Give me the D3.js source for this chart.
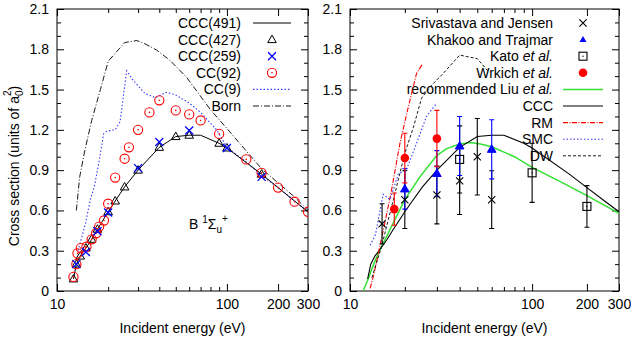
<!DOCTYPE html>
<html><head><meta charset="utf-8">
<script src="https://cdn.jsdelivr.net/npm/d3@7"></script>
<style>
body{margin:0;background:#fff}
svg{display:block;font-family:"Liberation Sans",Arial,Helvetica,sans-serif}
</style></head><body>
<svg id="c" width="634" height="341"></svg>
<script>
// ---------- data (left panel) ----------
const ccc491E = [12.5,13,13.7,14.8,16,17.3,20,22,25,30,40,50,60,70,90,100,160,200,250,300];
const ccc491V = [0.09,0.2,0.26,0.32,0.385,0.46,0.59,0.67,0.775,0.90,1.07,1.15,1.16,1.16,1.10,1.065,0.87,0.77,0.67,0.59];
const ccc427E = [12.5,13,13.7,14.8,16,17.3,20,22,25,30,40,50,60,90,100,160];
const ccc427V = [0.09,0.2,0.26,0.32,0.385,0.46,0.59,0.67,0.775,0.90,1.07,1.15,1.16,1.10,1.065,0.87];
const ccc259E = [13,14.8,17.3,20,30,40,60,100,160];
const ccc259V = [0.2,0.29,0.445,0.585,0.915,1.11,1.195,1.065,0.85];
const cc92E = [12.5,13,13.2,13.8,14.9,16,17,17.7,18.9,20,22,25,26.5,30,35,40,50,60,70,90,130,160,200,250,300];
const cc92V = [0.105,0.2,0.28,0.32,0.33,0.385,0.43,0.48,0.525,0.65,0.845,0.985,1.07,1.20,1.33,1.42,1.345,1.315,1.27,1.17,0.98,0.88,0.77,0.665,0.59];
const cc9E = [13.3,14.7,15.7,16.6,17.6,18.8,19.7,22,23.5,25.7,28,33,38,44,50,60,70,87,100,130,160,200,300];
const cc9V = [0.3,0.5,0.68,0.78,0.95,1.17,1.19,1.20,1.26,1.64,1.57,1.47,1.44,1.48,1.46,1.40,1.33,1.20,1.07,0.96,0.86,0.77,0.59];
const bornE = [13,13.6,14.6,16,18,20,22,25,29.5,33,38.5,46,58,80,100,160,250,300];
const bornV = [0.6,0.85,1.05,1.27,1.5,1.71,1.77,1.85,1.865,1.84,1.795,1.72,1.59,1.35,1.21,0.91,0.70,0.6];

// ---------- data (right panel) ----------
const sjE = [15,20,30,40,50,60];
const sjV = [0.5,0.68,0.715,0.82,1.0,0.68];
const sjErr = [0.15,0.215,0.215,0.25,0.285,0.215];
const ktE = [20,30,40,60];
const ktV = [0.76,0.875,1.08,1.055];
const ktErr = [0.15,0.17,0.22,0.22];
const katoE = [40,100,200];
const katoV = [0.98,0.88,0.63];
const katoErr = [0.25,0.22,0.155];
const wrE = [17.5,20,30];
const wrV = [0.61,0.99,1.135];
const wrErr = [0.12,0.185,0.21];
const liuE = [11.8,12.5,13.5,14.3,16.9,20,24.2,30,34,40,46,52,60,80,100,150,200,300];
const liuV = [0.0,0.08,0.2,0.28,0.48,0.68,0.85,1.01,1.06,1.095,1.105,1.095,1.074,1.0,0.92,0.80,0.71,0.578];
const rmE = [12.9,13.5,14.3,15.5,16.9,18.8,20.9,23.2,25];
const rmV = [0.02,0.12,0.28,0.5,0.75,1.1,1.37,1.62,1.69];
const smcE = [12.9,13.8,15.2,16.6,18.4,20.5,23.2,26.3,30];
const smcV = [0.34,0.42,0.72,0.68,0.87,0.91,1.1,1.30,1.40];
const dwE = [13.2,14.9,17.3,20,22.3,24.7,27.5,32.5,40,50,57];
const dwV = [0.1,0.33,0.68,1.025,1.22,1.435,1.52,1.62,1.757,1.73,1.64];

// ---------- ticks ----------
const xMajor = [10,100,200,300];
const xMinor = [20,30,40,50,60,70,80,90];
const yMajor = [0,0.3,0.6,0.9,1.2,1.5,1.8,2.1];
const yMinor = [0.1,0.2,0.4,0.5,0.7,0.8,1.0,1.1,1.3,1.4,1.6,1.7,1.9,2.0];

const FS = 14;
const SFS = 10;
const svg = d3.select("#c");
const zip = (E,V,Err) => E.map((e,i)=>({e, v:V[i], err: Err?Err[i]:0}));

function makePanel(x0, x1) {
  const x = d3.scaleLog().domain([10,300]).range([x0,x1]);
  const y = d3.scaleLinear().domain([0,2.1]).range([291,9]);
  const g = svg.append("g");
  const style = sel => {
    sel.select(".domain").remove();
    sel.selectAll("line").attr("stroke","#000");
    sel.selectAll("text").attr("fill","#000").attr("font-size",FS).attr("font-family",null);
  };
  g.append("g").attr("transform",`translate(0,291)`)
    .call(d3.axisBottom(x).tickValues(xMajor).tickFormat(d3.format("d")).tickSize(-7).tickPadding(8)).call(style);
  g.append("g").attr("transform",`translate(0,291)`)
    .call(d3.axisBottom(x).tickValues(xMinor).tickFormat("").tickSize(-4)).call(style);
  g.append("g").attr("transform",`translate(0,9)`)
    .call(d3.axisTop(x).tickValues(xMajor).tickFormat("").tickSize(-7)).call(style);
  g.append("g").attr("transform",`translate(0,9)`)
    .call(d3.axisTop(x).tickValues(xMinor).tickFormat("").tickSize(-4)).call(style);
  g.append("g").attr("transform",`translate(${x0},0)`)
    .call(d3.axisLeft(y).tickValues(yMajor).tickFormat(d=>d===0?"0":d3.format(".1f")(d)).tickSize(-7).tickPadding(8)).call(style);
  g.append("g").attr("transform",`translate(${x0},0)`)
    .call(d3.axisLeft(y).tickValues(yMinor).tickFormat("").tickSize(-4)).call(style);
  g.append("g").attr("transform",`translate(${x1},0)`)
    .call(d3.axisRight(y).tickValues(yMajor).tickFormat("").tickSize(-7)).call(style);
  g.append("g").attr("transform",`translate(${x1},0)`)
    .call(d3.axisRight(y).tickValues(yMinor).tickFormat("").tickSize(-4)).call(style);
  g.append("rect").attr("x",x0).attr("y",9).attr("width",x1-x0).attr("height",282)
    .attr("fill","none").attr("stroke","#000").attr("stroke-width",1);
  g.append("text").attr("x",(x0+x1)/2).attr("y",333).attr("text-anchor","middle")
    .attr("font-size",FS).text("Incident energy (eV)");
  const clipId = "clip"+x0;
  svg.append("clipPath").attr("id",clipId).append("rect").attr("x",x0).attr("y",9).attr("width",x1-x0).attr("height",282);
  const plot = svg.append("g").attr("clip-path",`url(#${clipId})`);
  return {x,y,g,plot};
}

const line = (x,y) => d3.line().x(d=>x(d.e)).y(d=>y(d.v));

// marker drawers
function tri(g,cx,cy,open,color){
  g.append("path").attr("d",`M${cx},${cy-4.5}L${cx+4.3},${cy+3}L${cx-4.3},${cy+3}Z`)
   .attr("fill",open?"none":color).attr("stroke",color).attr("stroke-width",1);
}
function cross(g,cx,cy,color,s,w){
  g.append("path").attr("d",`M${cx-s},${cy-s}L${cx+s},${cy+s}M${cx-s},${cy+s}L${cx+s},${cy-s}`)
   .attr("stroke",color).attr("stroke-width",w).attr("fill","none");
}
function circDot(g,cx,cy,color){
  g.append("circle").attr("cx",cx).attr("cy",cy).attr("r",4.6).attr("fill","none").attr("stroke",color).attr("stroke-width",1.1);
  g.append("circle").attr("cx",cx).attr("cy",cy).attr("r",0.8).attr("fill",color);
}
function sqDot(g,cx,cy,color){
  g.append("rect").attr("x",cx-4).attr("y",cy-4).attr("width",8).attr("height",8).attr("fill","none").attr("stroke",color).attr("stroke-width",1.1);
  g.append("circle").attr("cx",cx).attr("cy",cy).attr("r",0.7).attr("fill",color);
}
function filledCirc(g,cx,cy,color){
  g.append("circle").attr("cx",cx).attr("cy",cy).attr("r",4.3).attr("fill",color);
}

// ================= LEFT PANEL =================
const L = makePanel(57,308);
{
  const {x,y,plot,g} = L;
  plot.append("path").datum(zip(bornE,bornV)).attr("d",line(x,y)).attr("fill","none")
    .attr("stroke","#000").attr("stroke-width",0.9).attr("stroke-dasharray","6,2,1,2");
  plot.append("path").datum(zip(cc9E,cc9V)).attr("d",line(x,y)).attr("fill","none")
    .attr("stroke","#3a3aff").attr("stroke-width",1.1).attr("stroke-dasharray","1.5,2");
  plot.append("path").datum(zip(ccc491E,ccc491V)).attr("d",line(x,y)).attr("fill","none")
    .attr("stroke","#000").attr("stroke-width",1);
  zip(ccc427E,ccc427V).forEach(d=>tri(plot,x(d.e),y(d.v),true,"#000"));
  zip(cc92E,cc92V).forEach(d=>circDot(plot,x(d.e),y(d.v),"#ff0000"));
  zip(ccc259E,ccc259V).forEach(d=>cross(plot,x(d.e),y(d.v),"#0000ff",4,1.3));

  // legend
  const lg = g.append("g");
  const ly = i => 23 + i*16.6;
  const rows = ["CCC(491)","CCC(427)","CCC(259)","CC(92)","CC(9)","Born"];
  rows.forEach((t,i)=>{
    lg.append("text").attr("x",241).attr("y",ly(i)+5).attr("text-anchor","end").attr("font-size",FS).text(t);
  });
  lg.append("line").attr("x1",253).attr("x2",291).attr("y1",ly(0)).attr("y2",ly(0)).attr("stroke","#000");
  tri(lg,272,ly(1),true,"#000");
  cross(lg,272,ly(2),"#0000ff",4,1.3);
  circDot(lg,272,ly(3),"#ff0000");
  lg.append("line").attr("x1",253).attr("x2",291).attr("y1",ly(4)).attr("y2",ly(4)).attr("stroke","#3a3aff").attr("stroke-width",1.1).attr("stroke-dasharray","1.5,2");
  lg.append("line").attr("x1",253).attr("x2",291).attr("y1",ly(5)).attr("y2",ly(5)).attr("stroke","#000").attr("stroke-width",0.9).attr("stroke-dasharray","6,2,1,2");

  // state label
  const t = g.append("text").attr("x",189).attr("y",229).attr("font-size",FS);
  t.append("tspan").text("B ");
  t.append("tspan").attr("font-size",SFS).attr("dy",-6).text("1");
  t.append("tspan").attr("dy",6).text("Σ");
  t.append("tspan").attr("font-size",SFS).attr("dy",4).text("u");
  t.append("tspan").attr("font-size",SFS).attr("dy",-11).text("+");

  // y label
  const yl = g.append("text").attr("transform","translate(19,166) rotate(-90)").attr("text-anchor","middle").attr("font-size",FS);
  yl.append("tspan").text("Cross section (units of a");
  yl.append("tspan").attr("font-size",SFS).attr("dy",4).text("0");
  yl.append("tspan").attr("font-size",SFS).attr("dx",-5.5).attr("dy",-12).text("2");
  yl.append("tspan").attr("dy",8).text(")");
}

// ================= RIGHT PANEL =================
const R = makePanel(350,619);
{
  const {x,y,plot,g} = R;
  plot.append("path").datum(zip(liuE,liuV)).attr("d",line(x,y)).attr("fill","none")
    .attr("stroke","#33e033").attr("stroke-width",1.5);
  plot.append("path").datum(zip(ccc491E,ccc491V)).attr("d",line(x,y)).attr("fill","none")
    .attr("stroke","#000").attr("stroke-width",1.1);
  plot.append("path").datum(zip(rmE,rmV)).attr("d",line(x,y)).attr("fill","none")
    .attr("stroke","#ff0000").attr("stroke-width",1.1).attr("stroke-dasharray","5,1.5,1,1.5");
  plot.append("path").datum(zip(smcE,smcV)).attr("d",line(x,y)).attr("fill","none")
    .attr("stroke","#3a3aff").attr("stroke-width",1.1).attr("stroke-dasharray","1.5,2");
  plot.append("path").datum(zip(dwE,dwV)).attr("d",line(x,y)).attr("fill","none")
    .attr("stroke","#000").attr("stroke-width",0.9).attr("stroke-dasharray","3,2");

  const ebar = (data,color) => data.forEach(d=>{
    const cx = x(d.e), y1 = y(d.v-d.err), y2 = y(d.v+d.err);
    plot.append("path").attr("d",`M${cx},${y1}V${y2}M${cx-2.5},${y1}H${cx+2.5}M${cx-2.5},${y2}H${cx+2.5}`)
      .attr("stroke",color).attr("stroke-width",1.1).attr("fill","none");
  });
  const sj = zip(sjE,sjV,sjErr), kt = zip(ktE,ktV,ktErr), ka = zip(katoE,katoV,katoErr), wr = zip(wrE,wrV,wrErr);
  ebar(sj,"#000"); ebar(ka,"#000"); ebar(kt,"#0000ff"); ebar(wr,"#ff0000");
  sj.forEach(d=>cross(plot,x(d.e),y(d.v),"#000",3.6,1.1));
  kt.forEach(d=>tri(plot,x(d.e),y(d.v),false,"#0000ff"));
  ka.forEach(d=>sqDot(plot,x(d.e),y(d.v),"#000"));
  wr.forEach(d=>filledCirc(plot,x(d.e),y(d.v),"#ff0000"));

  // legend
  const lg = g.append("g");
  const ly = i => 23 + i*16.6;
  const labels = [["Srivastava and Jensen"],["Khakoo and Trajmar"],["Kato ","et al."],["Wrkich ","et al."],
                  ["recommended Liu ","et al."],["CCC"],["RM"],["SMC"],["DW"]];
  labels.forEach((p,i)=>{
    const t = lg.append("text").attr("x",553).attr("y",ly(i)+5).attr("text-anchor","end").attr("font-size",FS);
    t.append("tspan").text(p[0]);
    if (p[1]) t.append("tspan").attr("font-style","italic").text(p[1]);
  });
  cross(lg,583,ly(0),"#000",3.6,1.1);
  lg.append("path").attr("d",`M${583},${ly(1)-3.5}L${586.5},${ly(1)+2.5}L${579.5},${ly(1)+2.5}Z`).attr("fill","#0000ff");
  sqDot(lg,583,ly(2),"#000");
  filledCirc(lg,583,ly(3),"#ff0000");
  const seg = (i,c,w,da) => lg.append("line").attr("x1",563).attr("x2",603).attr("y1",ly(i)).attr("y2",ly(i))
     .attr("stroke",c).attr("stroke-width",w).attr("stroke-dasharray",da);
  seg(4,"#33e033",1.5,null);
  seg(5,"#000",1.1,null);
  seg(6,"#ff0000",1.1,"5,1.5,1,1.5");
  seg(7,"#3a3aff",1.1,"1.5,2");
  seg(8,"#000",0.9,"3,2");
}
</script>
</body></html>
